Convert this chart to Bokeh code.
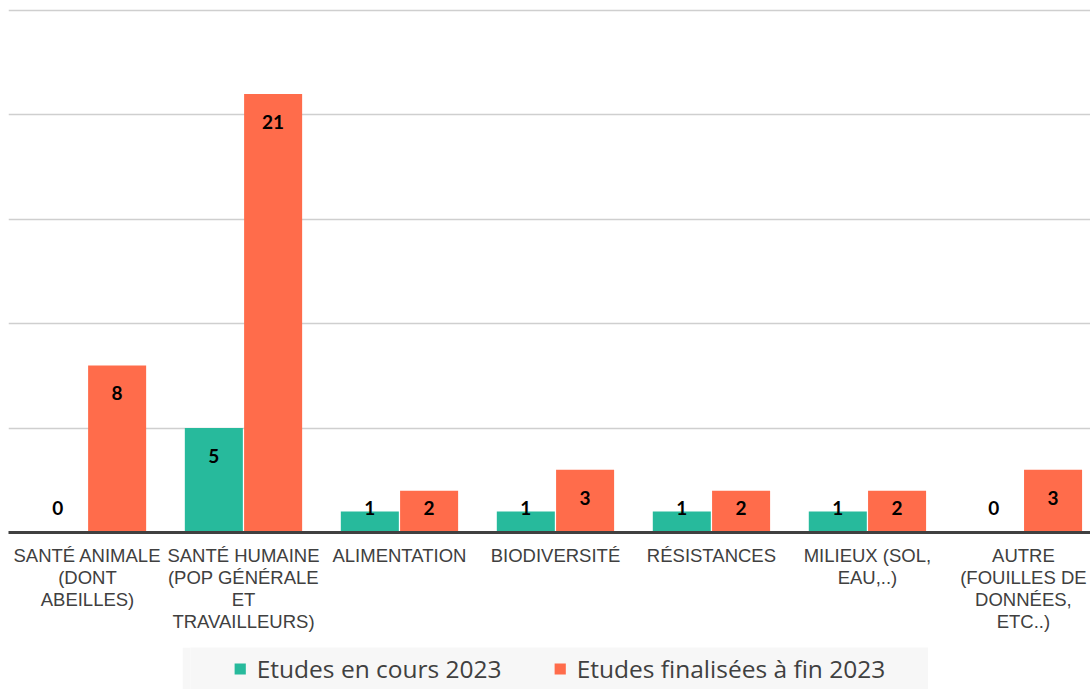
from bokeh.plotting import figure
from bokeh.models import Range1d, FixedTicker, Legend, LegendItem, ColumnDataSource
from bokeh.layouts import column
from bokeh.embed import file_html
from bokeh.resources import INLINE
from bokeh.core.properties import value

categories = [
    "SANTÉ ANIMALE\n(DONT\nABEILLES)",
    "SANTÉ HUMAINE\n(POP GÉNÉRALE\nET\nTRAVAILLEURS)",
    "ALIMENTATION",
    "BIODIVERSITÉ",
    "RÉSISTANCES",
    "MILIEUX (SOL,\nEAU,..)",
    "AUTRE\n(FOUILLES DE\nDONNÉES,\nETC..)",
]
en_cours = [0, 5, 1, 1, 1, 1, 0]
finalisees = [8, 21, 2, 3, 2, 2, 3]
series_names = ["Etudes en cours 2023", "Etudes finalisées à fin 2023"]

TEAL = "#27BA9C"
ORANGE = "#FF6C4B"
TXT = "#404040"

n = len(categories)
centers = [i + 0.5 for i in range(n)]
off = 0.19
bw = 0.372

x1 = [c - off for c in centers]
x2 = [c + off for c in centers]

def lab_y(v):
    return max(v - 1.34, 1.15)

src1 = ColumnDataSource(dict(x=x1, top=en_cours, ly=[lab_y(v) for v in en_cours],
                             txt=[str(v) for v in en_cours]))
src2 = ColumnDataSource(dict(x=x2, top=finalisees, ly=[lab_y(v) for v in finalisees],
                             txt=[str(v) for v in finalisees]))

p = figure(width=1090, height=640, output_backend="svg", toolbar_location=None,
           x_range=Range1d(-0.0064, 6.93), y_range=Range1d(0, 25.096),
           min_border_left=8, min_border_right=0, min_border_top=8, min_border_bottom=108)
p.outline_line_color = None
p.background_fill_color = "white"

p.vbar(x="x", top="top", width=bw, bottom=0, source=src1, fill_color=TEAL, line_color=None)
p.vbar(x="x", top="top", width=bw, bottom=0, source=src2, fill_color=ORANGE, line_color=None)

for s in (src1, src2):
    p.text(x="x", y="ly", text="txt", source=s, text_align="center", text_baseline="middle",
           text_font=value("Lato"), text_font_style="bold", text_font_size="19px",
           text_color="black")

p.yaxis.visible = False
p.ygrid.ticker = FixedTicker(ticks=[0, 5, 10, 15, 20, 25])
p.ygrid.grid_line_color = "#cfcfcf"
p.ygrid.grid_line_width = 1.6
p.xgrid.visible = False

xa = p.xaxis[0]
xa.ticker = FixedTicker(ticks=centers)
xa.major_label_overrides = {c: lab for c, lab in zip(centers, categories)}
xa.major_tick_line_color = None
xa.minor_tick_line_color = None
xa.major_tick_out = 0
xa.major_label_standoff = 12
xa.axis_line_color = TXT
xa.axis_line_width = 3
xa.major_label_text_font = "Liberation Sans"
xa.major_label_text_font_size = "18.5px"
xa.major_label_text_color = TXT
xa.major_label_text_line_height = 1.05

# legend panel
lg = figure(width=746, height=42, output_backend="svg", toolbar_location=None,
            x_axis_type=None, y_axis_type=None, x_range=Range1d(0, 1), y_range=Range1d(0, 1),
            min_border=0, min_border_left=0, margin=(7, 0, 0, 182))
lg.outline_line_color = None
lg.background_fill_color = "#f7f7f7"
lg.border_fill_color = "#f7f7f7"
lg.grid.visible = False
r1 = lg.vbar(x=[0.5], top=[0], bottom=[0], width=0.0, fill_color=TEAL, line_color=None)
r2 = lg.vbar(x=[0.5], top=[0], bottom=[0], width=0.0, fill_color=ORANGE, line_color=None)
legend = Legend(items=[LegendItem(label=series_names[0], renderers=[r1]),
                       LegendItem(label=series_names[1], renderers=[r2])],
                orientation="horizontal", location="center",
                background_fill_alpha=0, border_line_alpha=0,
                glyph_width=14, glyph_height=14, label_standoff=10, spacing=51,
                label_text_font="Open Sans", label_text_font_size="24.5px",
                label_text_color=TXT, padding=0, margin=0)
lg.add_layout(legend, "center")

layout = column(p, lg, spacing=0)
open("out.html", "w").write(file_html(layout, INLINE))
